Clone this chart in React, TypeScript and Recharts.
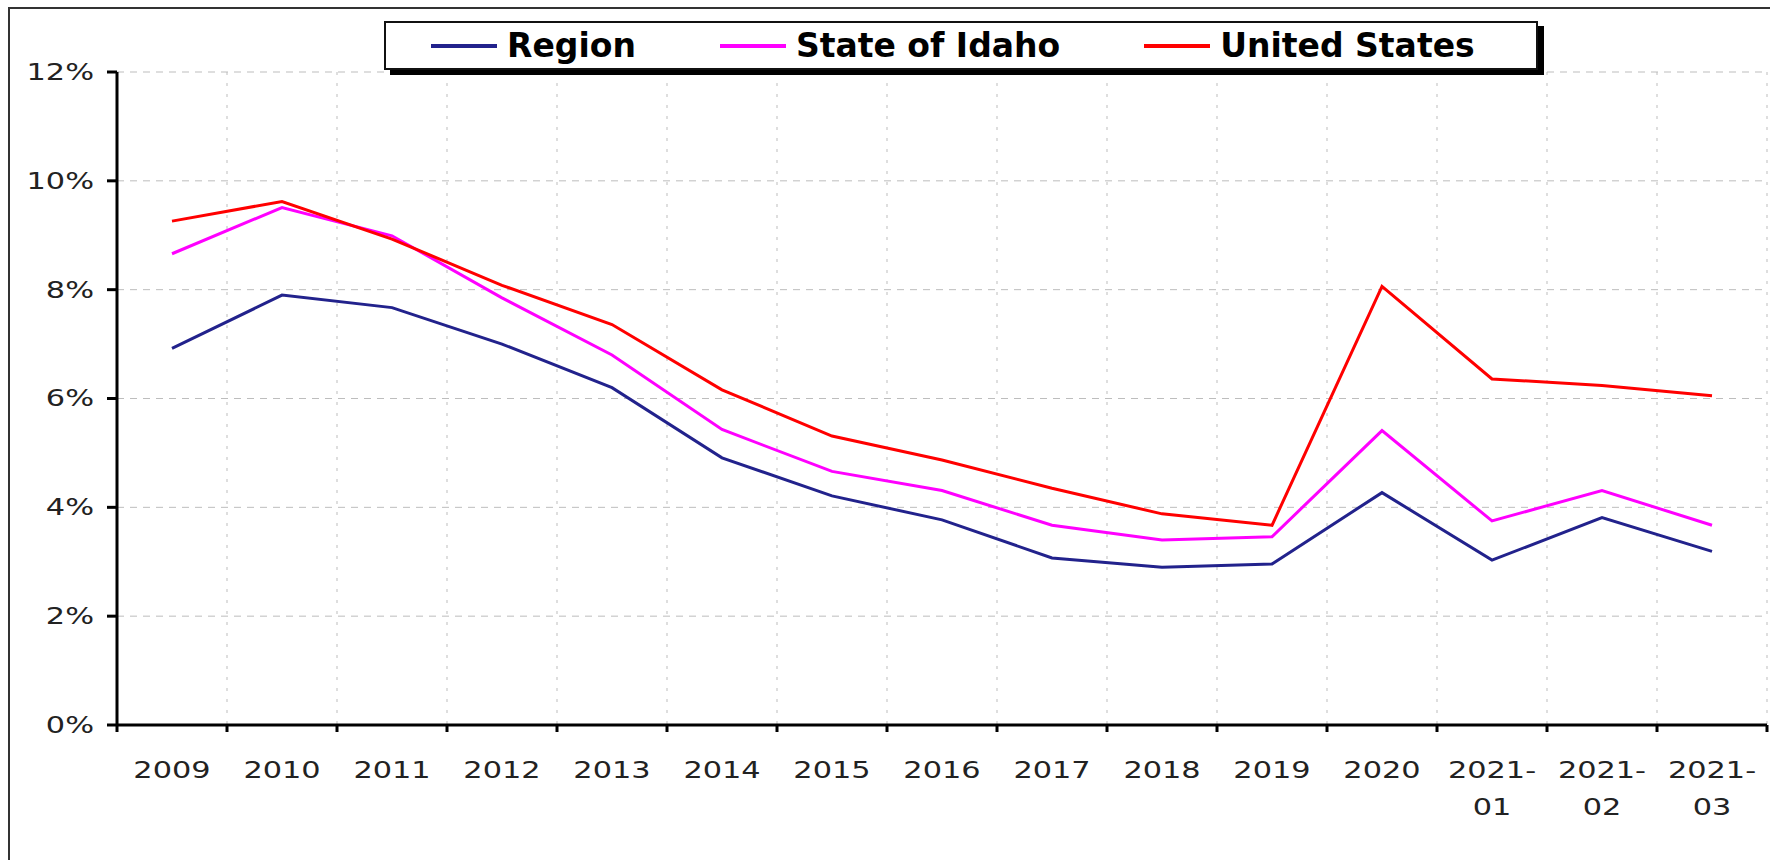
import React from 'react';
import { LineChart, Line, XAxis, YAxis, CartesianGrid, Legend } from 'recharts';

// categories and values (percent)
const periods = ['2009', '2010', '2011', '2012', '2013', '2014', '2015', '2016', '2017', '2018', '2019', '2020', '2021-01', '2021-02', '2021-03'];
const region = [6.92, 7.9, 7.67, 7.0, 6.2, 4.91, 4.21, 3.77, 3.07, 2.9, 2.96, 4.27, 3.03, 3.81, 3.19];
const idaho = [8.66, 9.51, 8.99, 7.85, 6.8, 5.43, 4.66, 4.31, 3.67, 3.4, 3.46, 5.41, 3.75, 4.31, 3.67];
const usa = [9.26, 9.62, 8.93, 8.08, 7.36, 6.16, 5.31, 4.87, 4.35, 3.88, 3.67, 8.06, 6.36, 6.24, 6.05];
const yTicks = [0, 2, 4, 6, 8, 10, 12];

const series = [
    { key: 'region', name: 'Region', color: '#22228c' },
    { key: 'idaho', name: 'State of Idaho', color: '#ff00ff' },
    { key: 'usa', name: 'United States', color: '#ff0000' },
];

const data = periods.map((p, i) => ({ period: p, region: region[i], idaho: idaho[i], usa: usa[i] }));

const FONT = '"DejaVu Sans", Verdana, sans-serif';
const STRETCH = 1.32;

const YTick = (props: any) => {
    const { x, y, payload } = props;
    return (
        <text
            x={x}
            y={y}
            dy={8}
            textAnchor="end"
            fontFamily={FONT}
            fontSize={23}
            fill="#222"
            transform={`translate(${x} 0) scale(${STRETCH} 1) translate(${-x} 0)`}
        >
            {payload.value}%
        </text>
    );
};

const XTick = (props: any) => {
    const { x, y, payload, index, width, visibleTicksCount } = props;
    const band = width / visibleTicksCount;
    const axisY = y - 7;
    const parts = String(payload.value).split('-');
    const lines = parts.length > 1 ? [parts[0] + '-', parts[1]] : [parts[0]];
    return (
        <g>
            <line x1={x - band / 2} x2={x - band / 2} y1={axisY} y2={axisY + 7} stroke="#000" strokeWidth={3} />
            {index === visibleTicksCount - 1 && (
                <line x1={x + band / 2} x2={x + band / 2} y1={axisY} y2={axisY + 7} stroke="#000" strokeWidth={3} />
            )}
            <text
                x={x}
                y={y}
                textAnchor="middle"
                fontFamily={FONT}
                fontSize={23}
                fill="#222"
                transform={`translate(${x} 0) scale(${STRETCH} 1) translate(${-x} 0)`}
            >
                {lines.map((l, i) => (
                    <tspan key={i} x={x} dy={i === 0 ? 46 : 37}>{l}</tspan>
                ))}
            </text>
        </g>
    );
};

const renderLegend = () => (
    <div
        style={{
            boxSizing: 'border-box',
            width: 1154,
            height: 49,
            border: '2px solid #111',
            background: '#fff',
            boxShadow: '6px 5px 0 #000',
            display: 'flex',
            alignItems: 'center',
            paddingLeft: 45,
            fontFamily: FONT,
            fontWeight: 'bold',
            fontSize: 33,
            color: '#000',
        }}
    >
        {series.map((s, i) => (
            <div key={s.key} style={{ display: 'flex', alignItems: 'center', marginRight: i < series.length - 1 ? 84 : 0 }}>
                <span style={{ display: 'inline-block', width: 66, height: 4, background: s.color, marginRight: 10 }} />
                <span style={{ lineHeight: '40px' }}>{s.name}</span>
            </div>
        ))}
    </div>
);

const App = () => {
    const n = periods.length;
    return (
        <div style={{ position: 'relative', width: 1770, height: 860, overflow: 'hidden', background: '#fff' }}>
            <style>{'body{margin:0;overflow:hidden}'}</style>
            <div
                style={{
                    position: 'absolute',
                    left: 8,
                    top: 7,
                    width: 1800,
                    height: 900,
                    borderLeft: '2px solid #333',
                    borderTop: '2px solid #333',
                }}
            />
            <LineChart width={1770} height={860} data={data} margin={{ top: 72, right: 3, left: 17, bottom: 35 }}>
                <CartesianGrid horizontal vertical={false} stroke="#bdbdbd" strokeDasharray="7 6" />
                <CartesianGrid
                    horizontal={false}
                    vertical
                    stroke="#bdbdbd"
                    strokeDasharray="3 8"
                    verticalCoordinatesGenerator={({ offset }: any) =>
                        periods.map((_, i) => offset.left + ((i + 1) * offset.width) / n)
                    }
                />
                <XAxis
                    dataKey="period"
                    scale="band"
                    height={100}
                    interval={0}
                    tickSize={7}
                    tickMargin={0}
                    tickLine={false}
                    axisLine={{ stroke: '#000', strokeWidth: 3 }}
                    tick={<XTick />}
                />
                <YAxis
                    width={100}
                    domain={[0, 12]}
                    ticks={yTicks}
                    interval={0}
                    tickSize={10}
                    tickMargin={13}
                    tickLine={{ stroke: '#000', strokeWidth: 3 }}
                    axisLine={{ stroke: '#000', strokeWidth: 3 }}
                    tick={<YTick />}
                />
                <Legend
                    layout="horizontal"
                    verticalAlign="middle"
                    align="center"
                    content={renderLegend}
                    wrapperStyle={{ position: 'absolute', left: 384, top: 21, width: 1154, height: 49 }}
                />
                {series.map(s => (
                    <Line
                        key={s.key}
                        type="linear"
                        dataKey={s.key}
                        name={s.name}
                        stroke={s.color}
                        strokeWidth={3}
                        dot={false}
                        activeDot={false}
                        isAnimationActive={false}
                    />
                ))}
            </LineChart>
        </div>
    );
};

export default App;
